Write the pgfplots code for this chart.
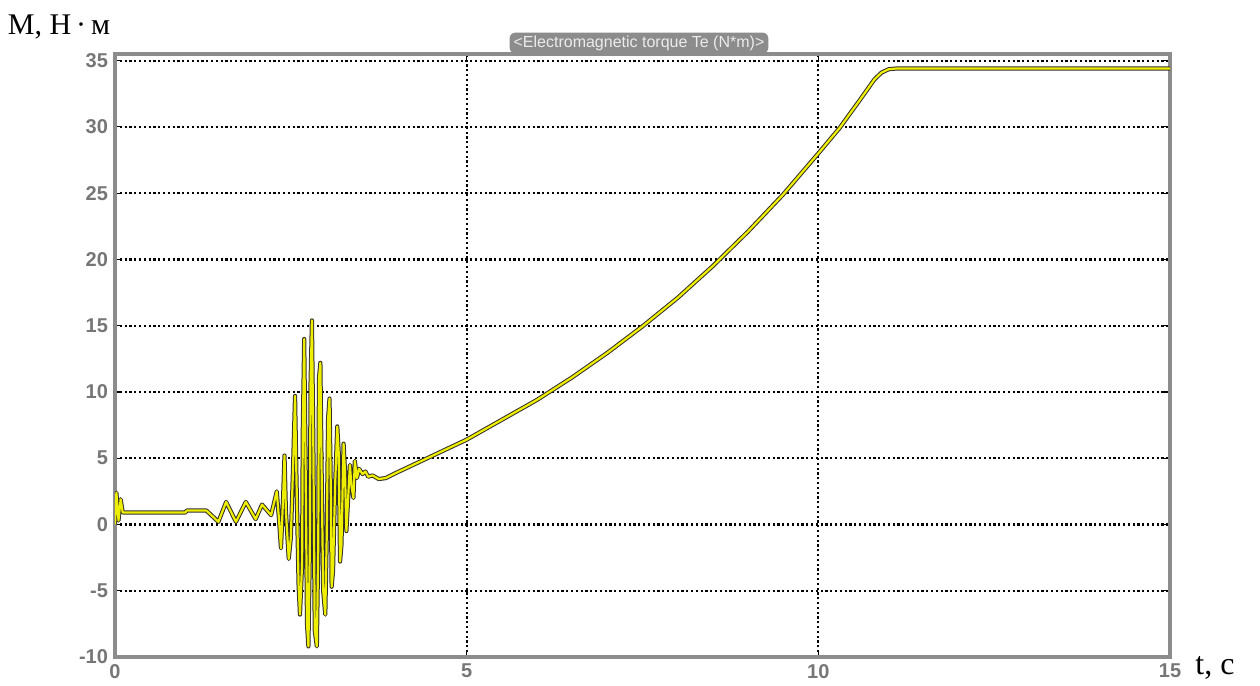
\documentclass[border=0pt]{standalone}
\usepackage{pgfplots}
\pgfplotsset{compat=1.18}
\usepackage{pgfplotstable}
\usepackage{fontspec}
\setmainfont{Liberation Serif}
\setsansfont{Liberation Sans}

\definecolor{scopeyellow}{RGB}{238,238,0}
\definecolor{framegray}{RGB}{140,140,140}
\definecolor{ticktext}{RGB}{118,118,118}

% Electromagnetic torque Te (N*m) versus time t (s)
\pgfplotstableread{
t     Te
0.00  0.0
0.02  2.4
0.05  0.3
0.08  1.9
0.11  0.9
1.00  0.9
1.02  1.05
1.30  1.05
1.47  0.2
1.58  1.7
1.72  0.2
1.86  1.7
2.00  0.4
2.09  1.5
2.22  0.7
2.30  2.5
2.33  0.5
2.36  -1.8
2.39  2.0
2.41  5.2
2.43  1.0
2.47  -2.6
2.50  -1.0
2.53  4.0
2.56  9.7
2.58  3.5
2.61  -4.5
2.63  -6.8
2.66  -3.0
2.67  7.0
2.69  14.0
2.71  4.5
2.73  -7.5
2.75  -9.2
2.77  -2.0
2.78  10.5
2.80  15.4
2.82  6.0
2.84  -8.0
2.87  -9.2
2.89  -1.5
2.90  11.0
2.92  12.2
2.94  3.0
2.96  -5.0
2.99  -6.8
3.01  -1.0
3.03  8.0
3.05  9.5
3.07  2.0
3.08  -4.7
3.10  -3.5
3.13  3.0
3.16  7.4
3.18  5.5
3.20  -2.8
3.22  -1.5
3.25  6.1
3.27  4.0
3.29  -0.5
3.31  1.5
3.34  4.5
3.36  3.0
3.39  2.0
3.41  4.8
3.44  3.5
3.47  4.2
3.52  3.8
3.56  4.0
3.60  3.6
3.66  3.7
3.75  3.43
3.85  3.5
4.00  3.9
4.50  5.15
5.00  6.4
5.50  7.9
6.00  9.4
6.50  11.1
7.00  12.95
7.50  14.95
8.00  17.1
8.50  19.5
9.00  22.1
9.50  24.9
10.00 28.0
10.30 29.9
10.60 32.1
10.80 33.6
10.90 34.1
11.00 34.35
11.10 34.4
15.00 34.4
}\torque

\begin{document}
\begin{tikzpicture}
\path[use as bounding box] (-57.5pt,-14.5pt) rectangle (572.5pt,328.5pt);
\begin{axis}[
  at={(0pt,0pt)}, anchor=south west,
  scale only axis, width=527.5pt, height=301.5pt,
  xmin=0, xmax=15, ymin=-10, ymax=35.5,
  xtick={0,5,10,15}, ytick={-10,-5,...,35},
  grid=major,
  major grid style={black, line width=1.1pt, dash pattern=on 1.1pt off 1.3pt},
  axis line style={framegray, line width=1.6pt},
  tick style={black, line width=0.6pt}, major tick length=3pt, tick align=inside,
  ticklabel style={font=\sffamily\bfseries\fontsize{10}{12}\selectfont, text=ticktext},
  /pgf/number format/assume math mode=true,
]
% dark outline under the trace
\addplot[black!85!olive, line width=2.1pt, line join=round] table[x=t, y=Te] {\torque};
% yellow trace on top
\addplot[scopeyellow, line width=1.1pt, line join=round] table[x=t, y=Te] {\torque};
\end{axis}
\node[fill=framegray, text=white!92!black, rounded corners=3pt, inner xsep=2pt, inner ysep=1.5pt,
      font=\sffamily\fontsize{8}{9.5}\selectfont] at (262pt,307pt) {<Electromagnetic torque Te (N*m)>};
\node[font=\fontsize{15}{17}\selectfont] at (-28pt,315pt) {М, Н\,·\,м};
\node[font=\fontsize{16}{18}\selectfont] at (550pt,-5.5pt) {t, с};
\end{tikzpicture}
\end{document}
